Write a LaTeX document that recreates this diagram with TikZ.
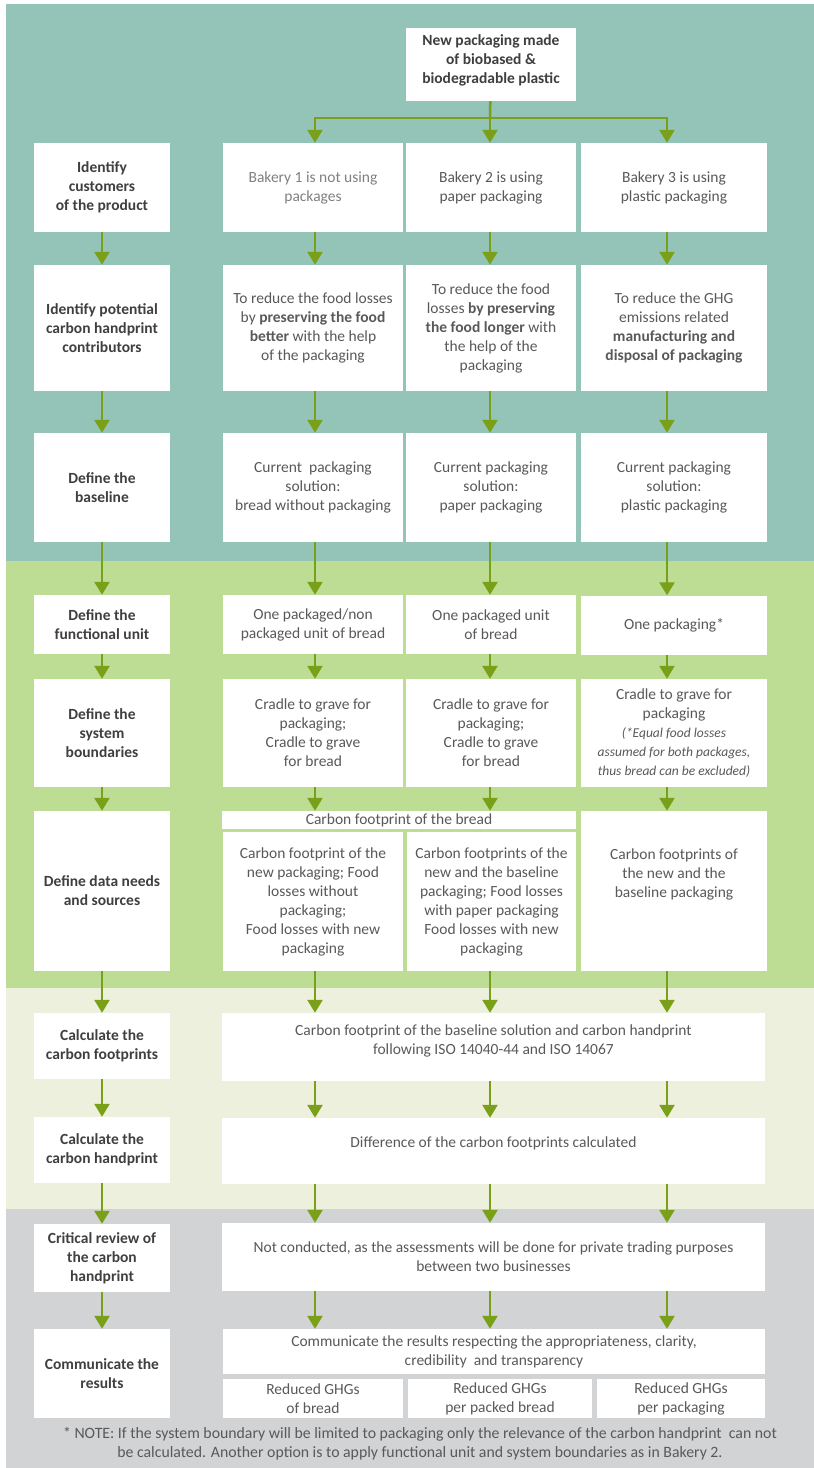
\documentclass[tikz,border=0pt]{standalone}
\usepackage{fontspec}
\setmainfont{Carlito}
\usetikzlibrary{arrows.meta}
\definecolor{bandteal}{HTML}{93C4B7}
\definecolor{bandgreen}{HTML}{BEDD94}
\definecolor{bandcream}{HTML}{EEF0DE}
\definecolor{bandgray}{HTML}{D1D3D4}
\definecolor{flowgreen}{HTML}{7AA01A}
\definecolor{inkdark}{HTML}{3F3F3F}
\definecolor{inkgray}{HTML}{595959}
\definecolor{inklight}{HTML}{808080}
\newcommand{\asidefont}{\fontsize{13.5}{20}\selectfont\itshape}

\begin{document}
\begin{tikzpicture}[x=1pt,y=-1pt,
    box/.style={fill=white, inner sep=0pt, align=center, text=inkgray,
      font=\fontsize{15.5}{19}\selectfont},
    stepbox/.style={box, text=inkdark, font=\fontsize{15.5}{19}\selectfont\bfseries,
      minimum width=136pt},
    col1/.style={box, minimum width=180pt},
    col2/.style={box, minimum width=170pt},
    col3/.style={box, minimum width=186pt},
    widebox/.style={box, minimum width=543pt},
    flowline/.style={draw=flowgreen, line width=2.5pt},
    flow/.style={flowline, -{Triangle[length=13pt,width=15pt]}}]
    \useasboundingbox (0,0) rectangle (814,1468);
    % background bands
    \fill[bandteal] (6,4) rectangle (814,561);
    \fill[bandgreen] (6,561) rectangle (814,988);
    \fill[bandcream] (6,988) rectangle (814,1209);
    \fill[bandgray] (6,1209) rectangle (814,1468);
    % arrow columns
    \coordinate (k1) at (315,0);
    \coordinate (k2) at (490,0);
    \coordinate (k3) at (667,0);
    \coordinate (fork) at (490,118);

    % steps
    \node[stepbox, minimum height=89pt] (s1) at (102,187.5) {Identify\\customers\\of the product};
    \node[stepbox, minimum height=126pt] (s2) at (102,328) {Identify potential\\carbon handprint\\contributors};
    \node[stepbox, minimum height=109pt] (s3) at (102,487.5) {Define the\\baseline};
    \node[stepbox, minimum height=59pt] (s4) at (102,624.5) {Define the\\functional unit};
    \node[stepbox, minimum height=108pt] (s5) at (102,733) {Define the\\system\\boundaries};
    \node[stepbox, minimum height=160pt] (s6) at (102,891) {Define data needs\\and sources};
    \node[stepbox, minimum height=66pt] (s7) at (102,1046) {Calculate the\\carbon footprints};
    \node[stepbox, minimum height=66pt] (s8) at (102,1150) {Calculate the\\carbon handprint};
    \node[stepbox, minimum height=68pt] (s9) at (102,1258) {Critical review of\\the carbon\\handprint};
    \node[stepbox, minimum height=89pt] (s10) at (102,1373.5) {Communicate the\\results};

    % product
    \node[stepbox, minimum width=170pt, minimum height=73pt] (newpack) at (491,64.5)
      {New packaging made\\of biobased \&\\biodegradable plastic\\[-13pt]\strut};

    % bakery cases
    \node[col1, minimum height=89pt, text=inklight] (a1) at (313,187.5) {Bakery 1 is not using\\packages};
    \node[col2, minimum height=89pt] (b1) at (491,187.5) {Bakery 2 is using\\paper packaging};
    \node[col3, minimum height=89pt] (c1) at (674,187.5) {Bakery 3 is using\\plastic packaging};

    \node[col1, minimum height=126pt] (a2) at (313,328)
      {To reduce the food losses\\by \textbf{preserving the food}\\\textbf{better} with the help\\of the packaging};
    \node[col2, minimum height=126pt] (b2) at (491,328)
      {To reduce the food\\losses \textbf{by preserving}\\\textbf{the food longer} with\\the help of the\\packaging};
    \node[col3, minimum height=126pt] (c2) at (674,328)
      {To reduce the GHG\\emissions related\\\textbf{manufacturing and}\\\textbf{disposal of packaging}};

    \node[col1, minimum height=109pt] (a3) at (313,487.5) {Current\ \ packaging\\solution:\\bread without packaging};
    \node[col2, minimum height=109pt] (b3) at (491,487.5) {Current packaging\\solution:\\paper packaging};
    \node[col3, minimum height=109pt] (c3) at (674,487.5) {Current packaging\\solution:\\plastic packaging};

    \node[col1, minimum height=59pt] (a4) at (313,624.5) {One packaged/non\\packaged unit of bread};
    \node[col2, minimum height=59pt] (b4) at (491,624.5) {One packaged unit\\of bread};
    \node[col3, minimum height=59pt] (c4) at (674,625) {One packaging*};

    \node[col1, minimum height=108pt] (a5) at (313,733) {Cradle to grave for\\packaging;\\Cradle to grave\\for bread};
    \node[col2, minimum height=108pt] (b5) at (491,733) {Cradle to grave for\\packaging;\\Cradle to grave\\for bread};
    \node[col3, minimum height=108pt] (c5) at (674,733)
      {Cradle to grave for\\packaging\\{\asidefont (*Equal food losses}\\{\asidefont assumed for both packages,}\\{\asidefont thus bread can be excluded)}};

    \node[box, minimum width=354pt, minimum height=18pt] (breadfp) at (399,820) {Carbon footprint of the bread};
    \node[col1, minimum height=139pt] (a6) at (313,901.5)
      {Carbon footprint of the\\new packaging; Food\\losses without\\packaging;\\Food losses with new\\packaging};
    \node[col2, minimum width=169pt, minimum height=139pt] (b6) at (491.5,901.5)
      {Carbon footprints of the\\new and the baseline\\packaging; Food losses\\with paper packaging\\Food losses with new\\packaging};
    \node[col3, minimum height=160pt] (c6) at (674,891)
      {Carbon footprints of\\the new and the\\baseline packaging\\[11pt]\strut};

    % common steps
    \node[widebox, minimum height=68pt] (calcfp) at (493.5,1047)
      {Carbon footprint of the baseline solution and carbon handprint\\following ISO 14040-44 and ISO 14067\\[-9pt]\strut};
    \node[widebox, minimum height=66pt] (calchp) at (493.5,1151)
      {Difference of the carbon footprints calculated\\[-6pt]\strut};
    \node[widebox, minimum height=68pt] (review) at (493.5,1257)
      {Not conducted, as the assessments will be done for private trading purposes\\between two businesses};
    \node[box, minimum width=542pt, minimum height=45pt] (comm) at (494,1351.5)
      {Communicate the results respecting the appropriateness, clarity,\\credibility\ \ and transparency};
    \node[box, minimum width=180pt, minimum height=39pt] (res1) at (313,1398.5) {Reduced GHGs\\of bread};
    \node[box, minimum width=184pt, minimum height=39pt] (res2) at (500,1398.5) {Reduced GHGs\\per packed bread};
    \node[box, minimum width=168pt, minimum height=39pt] (res3) at (681,1398.5) {Reduced GHGs\\per packaging};

    \node[align=center, text=inkgray, font=\fontsize{15.8}{19}\selectfont] (note) at (420,1443.5)
      {* NOTE: If the system boundary will be limited to packaging only the relevance of the carbon handprint\ \ can not\\be calculated. Another option is to apply functional unit and system boundaries as in Bakery 2.};

    % connectors
    \foreach \i [count=\j from 2] in {1,...,9}
      \draw[flow] (s\i) -- (s\j);
    \draw[flowline] (newpack) -- (fork);
    \draw[flow] (fork) -| (a1.north -| k1);
    \draw[flow] (fork) -- (b1.north -| k2);
    \draw[flow] (fork) -| (c1.north -| k3);
    \foreach \i [count=\j from 2] in {1,...,4} {
      \draw[flow] (a\i.south -| k1) -- (a\j.north -| k1);
      \draw[flow] (b\i.south -| k2) -- (b\j.north -| k2);
      \draw[flow] (c\i.south -| k3) -- (c\j.north -| k3);
    }
    \draw[flow] (a5.south -| k1) -- (breadfp.north -| k1);
    \draw[flow] (b5.south -| k2) -- (breadfp.north -| k2);
    \draw[flow] (c5.south -| k3) -- (c6.north -| k3);
    \draw[flow] (a6.south -| k1) -- (calcfp.north -| k1);
    \draw[flow] (b6.south -| k2) -- (calcfp.north -| k2);
    \draw[flow] (c6.south -| k3) -- (calcfp.north -| k3);
    \foreach \u/\v in {calcfp/calchp, calchp/review, review/comm} {
      \draw[flow] (\u.south -| k1) -- (\v.north -| k1);
      \draw[flow] (\u.south -| k2) -- (\v.north -| k2);
      \draw[flow] (\u.south -| k3) -- (\v.north -| k3);
    }
\end{tikzpicture}
\end{document}
